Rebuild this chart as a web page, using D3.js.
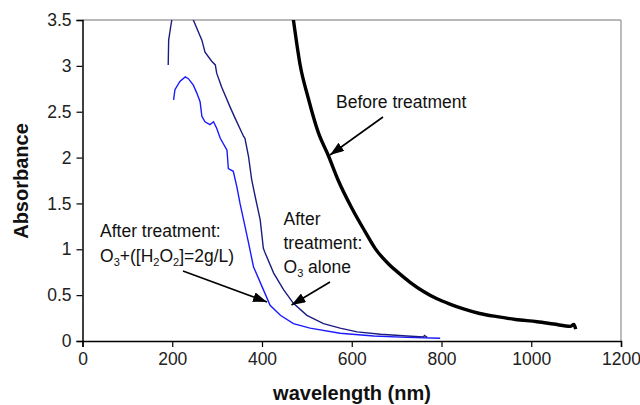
<!DOCTYPE html>
<html><head><meta charset="utf-8">
<script src="https://cdn.jsdelivr.net/npm/d3@7"></script>
<style>body{margin:0;background:#fff}svg{display:block}text{font-family:"Liberation Sans",Arial,sans-serif}</style>
</head><body>
<script>
// ---- data ----
const xTicks = [0, 200, 400, 600, 800, 1000, 1200];
const yTicks = [0, 0.5, 1, 1.5, 2, 2.5, 3, 3.5];
const yTickLabels = ["0", "0.5", "1", "1.5", "2", "2.5", "3", "3.5"];

const beforeWl  = [460, 470, 485, 503, 525, 548, 570, 600, 630, 652, 682, 705, 730, 760, 790, 820, 849, 885, 924, 965, 1013, 1050, 1087, 1095, 1099];
const beforeAbs = [3.85, 3.5, 3.01, 2.65, 2.28, 2.02, 1.75, 1.45, 1.19, 1.01, 0.84, 0.74, 0.64, 0.54, 0.46, 0.40, 0.35, 0.30, 0.265, 0.235, 0.21, 0.185, 0.16, 0.18, 0.13];

const ozoneWl  = [191, 192, 196, 199, 205, 225, 240, 247, 266, 273, 288, 296, 299, 310, 329, 340, 359, 362, 370, 377, 385, 396, 403, 407, 426, 448, 470, 500, 537, 574, 612, 664, 723, 760, 762, 768];
const ozoneAbs = [3.01, 3.28, 3.41, 3.5, 3.7, 3.75, 3.65, 3.5, 3.28, 3.15, 3.05, 3.01, 2.92, 2.77, 2.55, 2.43, 2.23, 2.21, 2.01, 1.76, 1.57, 1.32, 1.01, 0.96, 0.74, 0.56, 0.41, 0.28, 0.19, 0.14, 0.10, 0.073, 0.055, 0.045, 0.06, 0.04];

const h2o2Wl  = [203, 206, 217, 229, 236, 247, 255, 262, 266, 273, 284, 292, 299, 307, 322, 325, 336, 344, 351, 359, 370, 381, 403, 418, 441, 470, 507, 574, 649, 723, 797];
const h2o2Abs = [2.63, 2.74, 2.83, 2.88, 2.86, 2.79, 2.70, 2.61, 2.45, 2.39, 2.36, 2.39, 2.32, 2.21, 2.08, 1.88, 1.85, 1.68, 1.50, 1.32, 1.07, 0.81, 0.56, 0.39, 0.28, 0.19, 0.14, 0.084, 0.055, 0.04, 0.03];

const W = 640, H = 405;
const svg = d3.select("body").append("svg").attr("width", W).attr("height", H);

const x = d3.scaleLinear().domain([0, 1200]).range([82.5, 621]);
const y = d3.scaleLinear().domain([0, 3.5]).range([341, 20]);

// plot frame (top & right in gray)
svg.append("line").attr("x1", x(0)).attr("x2", x(1200)).attr("y1", y(3.5)).attr("y2", y(3.5)).attr("stroke", "#a0a0a0").attr("stroke-width", 1.5);
svg.append("line").attr("x1", x(1200)).attr("x2", x(1200)).attr("y1", y(3.5)).attr("y2", y(0)).attr("stroke", "#909090").attr("stroke-width", 1.2);

const defs = svg.append("defs");
defs.append("clipPath").attr("id", "clip").append("rect")
  .attr("x", x(0)).attr("y", y(3.5)).attr("width", x(1200) - x(0)).attr("height", y(0) - y(3.5));
defs.append("marker").attr("id", "arr").attr("markerUnits", "userSpaceOnUse")
  .attr("viewBox", "0 0 14 10").attr("refX", 14).attr("refY", 5)
  .attr("markerWidth", 14).attr("markerHeight", 10).attr("orient", "auto")
  .append("path").attr("d", "M0,0 L14,5 L0,10 Z").attr("fill", "#000");

// axes
const xAxis = svg.append("g").attr("transform", `translate(0,${y(0)})`)
  .call(d3.axisBottom(x).tickValues(xTicks).tickSize(6).tickPadding(6).tickFormat(d3.format("d")));
const yAxis = svg.append("g").attr("transform", `translate(${x(0)},0)`)
  .call(d3.axisLeft(y).tickValues(yTicks).tickSize(6).tickPadding(5).tickFormat((d, i) => yTickLabels[i]));
[xAxis, yAxis].forEach(g => {
  g.select(".domain").attr("stroke", "#000").attr("stroke-width", 1.5);
  g.selectAll(".tick line").attr("stroke", "#000").attr("stroke-width", 1.2);
  g.selectAll(".tick text").attr("font-size", 17.5).attr("fill", "#222")
    .style("font-family", '"Liberation Sans", Arial, sans-serif');
});

// curves
const plot = svg.append("g").attr("clip-path", "url(#clip)");
const line = d3.line().x(d => x(d[0])).y(d => y(d[1]));
plot.append("path").datum(h2o2Wl.map((w, i) => [w, h2o2Abs[i]]))
  .attr("d", line).attr("fill", "none").attr("stroke", "#1a1aff").attr("stroke-width", 1.4);
plot.append("path").datum(ozoneWl.map((w, i) => [w, ozoneAbs[i]]))
  .attr("d", line).attr("fill", "none").attr("stroke", "#1c1c80").attr("stroke-width", 1.4);
plot.append("path").datum(beforeWl.map((w, i) => [w, beforeAbs[i]]))
  .attr("d", d3.line().x(d => x(d[0])).y(d => y(d[1])).curve(d3.curveMonotoneX))
  .attr("fill", "none").attr("stroke", "#000").attr("stroke-width", 3.4)
  .attr("stroke-linejoin", "round");

// axis titles
svg.append("text").attr("x", 352).attr("y", 400).attr("text-anchor", "middle")
  .attr("font-size", 20).attr("font-weight", "bold").attr("fill", "#111").text("wavelength (nm)");
svg.append("text").attr("transform", "translate(28,181) rotate(-90)").attr("text-anchor", "middle")
  .attr("font-size", 20).attr("font-weight", "bold").attr("fill", "#111").text("Absorbance");

// annotations
const fs = 17.5;
svg.append("text").attr("x", 336).attr("y", 108).attr("font-size", fs).attr("fill", "#111").text("Before treatment");

svg.append("text").attr("x", 100).attr("y", 236.5).attr("font-size", fs).attr("fill", "#111").text("After treatment:");
const t2 = svg.append("text").attr("x", 100).attr("y", 261.5).attr("font-size", fs).attr("fill", "#111");
t2.append("tspan").text("O");
t2.append("tspan").attr("font-size", 11).attr("dy", 4).text("3");
t2.append("tspan").attr("dy", -4).text("+([H");
t2.append("tspan").attr("font-size", 11).attr("dy", 4).text("2");
t2.append("tspan").attr("dy", -4).text("O");
t2.append("tspan").attr("font-size", 11).attr("dy", 4).text("2");
t2.append("tspan").attr("dy", -4).text("]=2g/L)");

svg.append("text").attr("x", 283.5).attr("y", 225).attr("font-size", fs).attr("fill", "#111").text("After");
svg.append("text").attr("x", 283.5).attr("y", 249).attr("font-size", fs).attr("fill", "#111").text("treatment:");
const t3 = svg.append("text").attr("x", 283.5).attr("y", 273).attr("font-size", fs).attr("fill", "#111");
t3.append("tspan").text("O");
t3.append("tspan").attr("font-size", 11).attr("dy", 4).text("3");
t3.append("tspan").attr("dy", -4).text(" alone");

// arrows
const arrows = [[383, 117, 330, 155], [183, 271, 267, 302], [330, 282, 291.5, 305]];
svg.selectAll(".arrow").data(arrows).enter().append("line").attr("class", "arrow")
  .attr("x1", d => d[0]).attr("y1", d => d[1]).attr("x2", d => d[2]).attr("y2", d => d[3])
  .attr("stroke", "#000").attr("stroke-width", 1.6).attr("marker-end", "url(#arr)");
</script>
</body></html>
